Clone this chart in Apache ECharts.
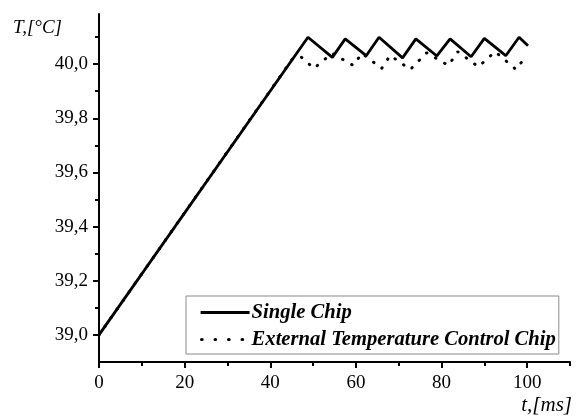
<!DOCTYPE html>
<html>
<head>
<meta charset="utf-8">
<script src="https://cdn.jsdelivr.net/npm/echarts@6/dist/echarts.min.js"></script>
<style>
  html, body { margin: 0; padding: 0; background: #fff; }
  #chart { width: 584px; height: 416px; }
</style>
</head>
<body>
<div id="chart"></div>
<script>
// 数据
var singleChip = [
  [0, 39.0], [48.8, 40.099], [54.5, 40.025], [57.5, 40.093], [62.4, 40.031],
  [65.4, 40.099], [70.9, 40.023], [74.0, 40.093], [78.9, 40.030], [82.0, 40.093],
  [86.9, 40.027], [90.0, 40.095], [95.0, 40.031], [98.1, 40.099], [100.2, 40.068]
];
var externalChip = [
  [0, 39.0], [45.3, 40.022], [47.3, 40.025], [50.2, 39.984], [54.4, 40.040],
  [59.4, 39.995], [61.4, 40.040], [66.0, 39.984], [68.0, 40.032], [72.7, 39.980],
  [76.5, 40.042], [81.6, 39.995], [83.8, 40.046], [88.6, 39.990], [92.5, 40.046],
  [97.4, 39.980], [100.0, 40.035]
];
var xMajorTicks = [0, 20, 40, 60, 80, 100];
var xMinorTicks = [10, 30, 50, 70, 90, 110];
var yMajorTicks = [39.0, 39.2, 39.4, 39.6, 39.8, 40.0];
var yMinorTicks = [39.1, 39.3, 39.5, 39.7, 39.9, 40.1];
var seriesNames = ["Single Chip", "External Temperature Control Chip"];

var serif = "'Liberation Serif', 'DejaVu Serif', serif";
var myChart = echarts.init(document.getElementById("chart"));

var option = {
  animation: false,
  backgroundColor: "#fff",
  grid: { left: 99, right: 14, top: 14, bottom: 54 },
  legend: {
    orient: "vertical",
    left: 186,
    top: 296,
    backgroundColor: "#fff",
    borderColor: "#8a8a8a",
    borderWidth: 1,
    borderRadius: 0,
    padding: [6, 3, 4, 13],
    itemGap: 6,
    itemWidth: 49,
    itemHeight: 14,
    itemStyle: { opacity: 0 },
    textStyle: {
      fontFamily: serif,
      fontSize: 20.6,
      fontWeight: "bold",
      fontStyle: "italic",
      color: "#000",
      lineHeight: 20,
      padding: [0, 0, 0, -3]
    },
    data: [
      { name: seriesNames[0], lineStyle: { width: 3 } },
      { name: seriesNames[1], lineStyle: { width: 3.2, type: [0.5, 13], cap: "round", dashOffset: -1 } }
    ]
  },
  xAxis: [
    {
      type: "value",
      min: 0,
      max: 110,
      splitLine: { show: false },
      axisLine: { show: true, onZero: false, lineStyle: { color: "#000", width: 2 } },
      axisTick: { show: true, length: 6, customValues: xMajorTicks, lineStyle: { color: "#000", width: 2 } },
      axisLabel: {
        customValues: xMajorTicks,
        margin: 12,
        fontFamily: serif,
        fontSize: 19,
        color: "#000"
      }
    },
    {
      type: "value",
      min: 0,
      max: 110,
      position: "bottom",
      splitLine: { show: false },
      axisLine: { show: false },
      axisTick: { show: true, length: 4, customValues: xMinorTicks, lineStyle: { color: "#000", width: 2 } },
      axisLabel: { show: false }
    }
  ],
  yAxis: [
    {
      type: "value",
      min: 38.9,
      max: 40.185,
      splitLine: { show: false },
      axisLine: { show: true, onZero: false, lineStyle: { color: "#000", width: 2 } },
      axisTick: { show: true, length: 6, customValues: yMajorTicks, lineStyle: { color: "#000", width: 2 } },
      axisLabel: {
        customValues: yMajorTicks,
        margin: 11,
        fontFamily: serif,
        fontSize: 19,
        color: "#000",
        formatter: function (v) {
          return v.toFixed(1).replace(".", ",");
        }
      }
    },
    {
      type: "value",
      min: 38.9,
      max: 40.185,
      position: "left",
      splitLine: { show: false },
      axisLine: { show: false },
      axisTick: { show: true, length: 4, customValues: yMinorTicks, lineStyle: { color: "#000", width: 2 } },
      axisLabel: { show: false }
    }
  ],
  graphic: [
    {
      type: "text",
      left: 13,
      top: 18,
      style: {
        text: "T,[°C]",
        fontFamily: serif,
        fontSize: 19,
        fontStyle: "italic",
        fill: "#000"
      }
    },
    {
      type: "text",
      right: 12,
      top: 395,
      style: {
        text: "t,[ms]",
        fontFamily: serif,
        fontSize: 21,
        fontStyle: "italic",
        fill: "#000"
      }
    }
  ],
  series: [
    {
      name: seriesNames[0],
      type: "line",
      symbol: "none",
      data: singleChip,
      lineStyle: { color: "#000", width: 2.8, type: "solid" },
      itemStyle: { color: "#000" }
    },
    {
      name: seriesNames[1],
      type: "line",
      symbol: "none",
      data: externalChip,
      lineStyle: { color: "#000", width: 3, type: [0.5, 10], cap: "round" },
      itemStyle: { color: "#000" }
    }
  ]
};
myChart.setOption(option);
</script>
</body>
</html>
